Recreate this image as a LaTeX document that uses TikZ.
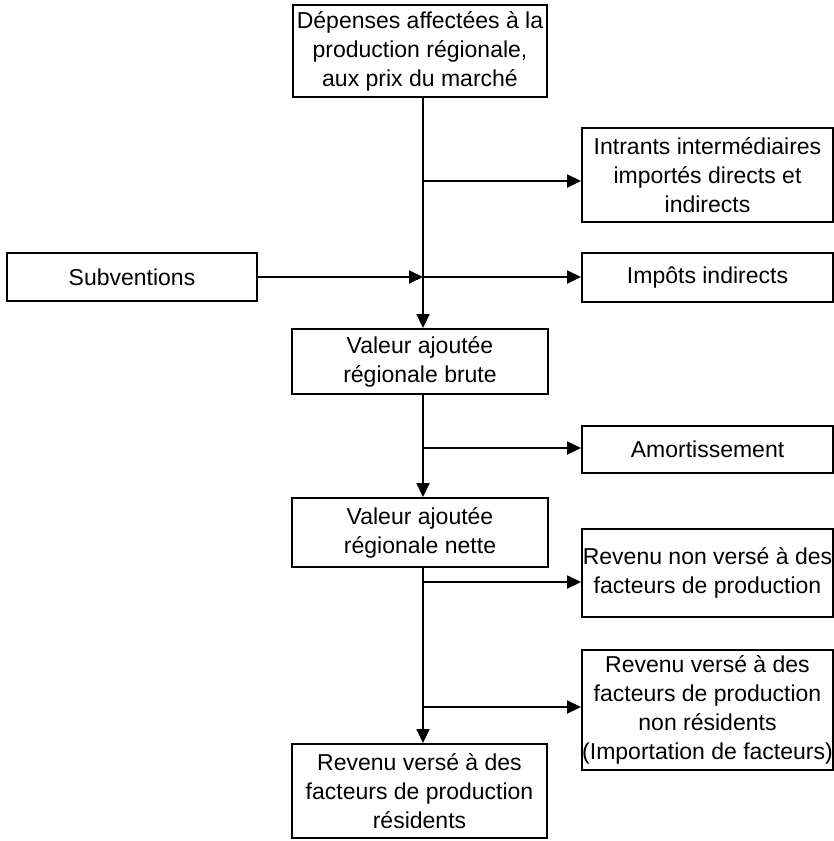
\documentclass[tikz,border=0pt]{standalone}
\usepackage{fontspec}
\setmainfont{Liberation Sans}
\usetikzlibrary{arrows.meta}
\begin{document}
\begin{tikzpicture}[x=1pt,y=-1pt,
  box/.style={draw,line width=1.9pt,align=center,inner sep=0pt,
    font=\fontsize{23pt}{29pt}\selectfont},
  arr/.style={line width=1.8pt,-{Triangle[length=14pt,width=13pt]}}]
\useasboundingbox (0,0) rectangle (834,841);
\node[box,minimum width=254pt,minimum height=92pt] (top) at (420,51) {Dépenses affectées à la\\production régionale,\\aux prix du marché};
\node[box,minimum width=251pt,minimum height=94pt] (intr) at (707.5,175) {Intrants intermédiaires\\importés directs et\\indirects};
\node[box,minimum width=250pt,minimum height=48pt] (subv) at (132,277) {Subventions};
\node[box,minimum width=251pt,minimum height=49pt] (imp) at (707.5,277.5) {Impôts indirects};
\node[box,minimum width=256pt,minimum height=65pt] (varb) at (420,361.5) {Valeur ajoutée\\régionale brute};
\node[box,minimum width=251pt,minimum height=47pt] (amort) at (707.5,449.5) {Amortissement};
\node[box,minimum width=256pt,minimum height=69pt] (varn) at (420,532.5) {Valeur ajoutée\\régionale nette};
\node[box,minimum width=251pt,minimum height=88pt] (rnv) at (707.5,573) {Revenu non versé à des\\facteurs de production};
\node[box,minimum width=251pt,minimum height=120pt] (rvnr) at (707.5,710) {Revenu versé à des\\facteurs de production\\non résidents\\(Importation de facteurs)};
\node[box,minimum width=255pt,minimum height=94pt] (rvr) at (419.5,791) {Revenu versé à des\\facteurs de production\\résidents};
\coordinate (tx) at (423,0);
\coordinate (b1) at (423,181);
\coordinate (b2) at (423,277);
\coordinate (b3) at (423,448);
\coordinate (b4) at (423,582);
\coordinate (b5) at (423,707);
\draw[arr] (top.south -| tx) -- (varb.north -| tx);
\draw[arr] (varb.south -| tx) -- (varn.north -| tx);
\draw[arr] (varn.south -| tx) -- (rvr.north -| tx);
\draw[arr] (b1) -- (b1 -| intr.west);
\draw[arr] (subv.east |- b2) -- (b2);
\draw[arr] (b2) -- (b2 -| imp.west);
\draw[arr] (b3) -- (b3 -| amort.west);
\draw[arr] (b4) -- (b4 -| rnv.west);
\draw[arr] (b5) -- (b5 -| rvnr.west);
\end{tikzpicture}
\end{document}
